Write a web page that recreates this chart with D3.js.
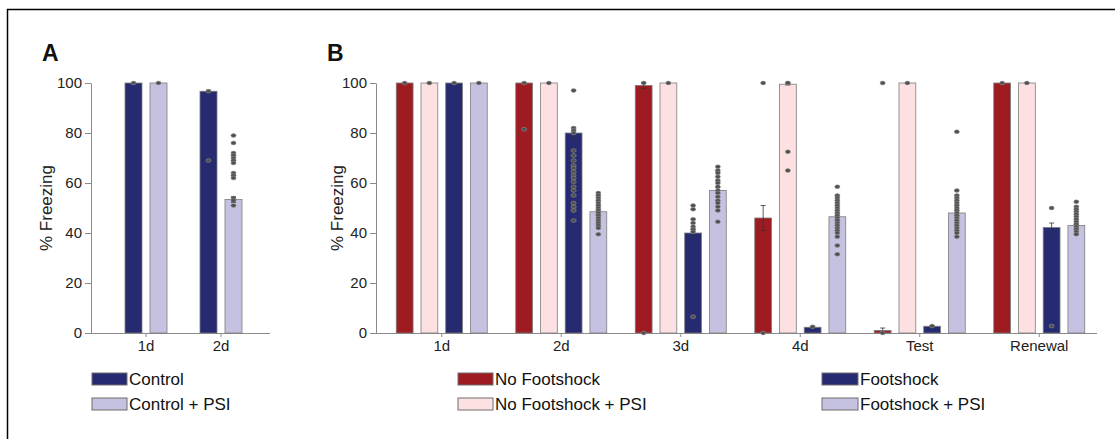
<!DOCTYPE html>
<html><head><meta charset="utf-8">
<script src="https://cdn.jsdelivr.net/npm/d3@7"></script>
<style>body{margin:0;background:#fff}svg{display:block;font-family:"Liberation Sans",Arial,sans-serif}</style>
</head><body>
<svg id="c" width="1115" height="439"></svg>
<script>
// ---------- DATA ----------
const catsA = ["1d", "2d"];
const seriesA = ["Control", "Control + PSI"];
const meanControl = [100, 96.7];
const errControl = [0, 0.5];
const meanControlPSI = [100, 53.4];
const errControlPSI = [0, 1.2];
const dotsControl = [[100], [96.7, 69]];
const dotsControlPSI = [[100], [79, 76, 72, 71, 70, 69, 68, 64, 63, 62, 54, 53, 51]];

const catsB = ["1d", "2d", "3d", "4d", "Test", "Renewal"];
const seriesB = ["No Footshock", "No Footshock + PSI", "Footshock", "Footshock + PSI"];
const meanNoFoot = [100, 100, 99, 46, 1, 100];
const errNoFoot = [0, 0, 1.2, 5, 1, 0];
const meanNoFootPSI = [100, 100, 100, 99.5, 100, 100];
const errNoFootPSI = [0, 0, 0, 0.3, 0, 0];
const meanFoot = [100, 80, 40, 2.3, 2.7, 42.2];
const errFoot = [0, 2, 1.3, 0.3, 0.3, 1.8];
const meanFootPSI = [100, 48.5, 57, 46.5, 48, 43];
const errFootPSI = [0, 1, 1.2, 1.3, 1.2, 0.8];
const dotsNoFoot = [[100], [100, 81.5], [100, 0], [100, 0], [100, 0], [100]];
const dotsNoFootPSI = [[100], [100], [100], [100, 100, 72.5, 65], [100], [100]];
const dotsFoot = [[100],
  [97, 82, 81, 80, 73, 71, 69, 67, 66, 64.5, 63, 62, 60.5, 58.5, 57, 55, 52, 50.5, 49, 45],
  [51, 49.5, 45.5, 44, 42.5, 41.5, 40.5, 6.5],
  [2.5], [2.8], [50, 2.8]];
const dotsFootPSI = [[100],
  [56, 55, 54, 53, 52, 51, 50, 49, 48, 47, 46, 45, 44, 43, 42, 39.5],
  [66.5, 65, 64, 62.5, 61, 60, 58.5, 57, 56, 54.5, 53, 52, 50.5, 49, 44.5],
  [58.5, 55, 54, 53, 52, 51, 50, 49, 48, 47, 46, 45, 44, 43, 42, 41, 40, 38.5, 35, 31.5],
  [80.5, 57, 55, 54, 53, 52, 51, 50, 49, 48, 47, 46, 45, 44, 43, 42, 41, 40, 38.5],
  [52.5, 50.5, 49.5, 48.5, 47.5, 46.5, 45.5, 44.5, 43.5, 42.5, 41.5, 40.5, 39.5]];
const yTicks = [0, 20, 40, 60, 80, 100];

// ---------- STYLE ----------
const RED = "#9e1b21", PINK = "#fde0e2", NAVY = "#262a70", LAV = "#c4c2e0";
const AXIS = "#8a8a8a";

const svg = d3.select("#c");
// frame (top and left lines)
svg.append("line").attr("x1", 7).attr("x2", 1115).attr("y1", 9.5).attr("y2", 9.5).attr("stroke", "#000").attr("stroke-width", 1.5);
svg.append("line").attr("x1", 7.5).attr("x2", 7.5).attr("y1", 9).attr("y2", 439).attr("stroke", "#000").attr("stroke-width", 1.5);

const y = d3.scaleLinear().domain([0, 100]).range([333, 83]);

function panel(opt) {
  const g = svg.append("g");
  const x = d3.scaleBand().domain(opt.cats).range(opt.range);
  const half = opt.groupW / 2;
  const xs = d3.scaleBand().domain(opt.series).range([-half, half]).paddingInner(0.32).paddingOuter(0);
  const bw = xs.bandwidth();

  // y axis
  const ya = g.append("g").attr("transform", `translate(${opt.x0},0)`)
    .call(d3.axisLeft(y).tickValues(yTicks).tickSize(6).tickPadding(3).tickSizeOuter(0));
  ya.select(".domain").attr("stroke", AXIS);
  ya.selectAll(".tick line").attr("stroke", AXIS);
  ya.selectAll(".tick text").attr("font-size", 15).attr("fill", "#222").attr("font-family", "Liberation Sans, Arial, sans-serif");

  // x axis
  const xa = g.append("g").attr("transform", `translate(0,${y(0)})`)
    .call(d3.axisBottom(x).tickSize(4).tickPadding(3).tickSizeOuter(0));
  xa.select(".domain").remove();
  xa.selectAll(".tick line").attr("stroke", AXIS);
  xa.selectAll(".tick text").attr("font-size", 15).attr("fill", "#222").attr("font-family", "Liberation Sans, Arial, sans-serif");
  g.append("line").attr("x1", opt.x0).attr("x2", opt.x1).attr("y1", y(0) + 0.5).attr("y2", y(0) + 0.5).attr("stroke", AXIS);

  // y title
  g.append("text").attr("transform", `translate(${opt.titleX},${(y(0) + y(100)) / 2}) rotate(-90)`)
    .attr("text-anchor", "middle").attr("dominant-baseline", "central")
    .attr("font-size", 17).attr("fill", "#222").text("% Freezing");
  // panel letter
  g.append("text").attr("x", opt.letterX).attr("y", 61).attr("font-size", 23).attr("font-weight", "bold")
    .attr("fill", "#111").text(opt.letter);

  opt.series.forEach((s, si) => {
    const means = opt.means[si], errs = opt.errs[si], dots = opt.dots[si];
    opt.cats.forEach((c, ci) => {
      const cx = x(c) + x.bandwidth() / 2 + xs(s);
      g.append("rect").attr("x", cx).attr("width", bw)
        .attr("y", y(means[ci])).attr("height", y(0) - y(means[ci]))
        .attr("fill", opt.colors[si]).attr("stroke", "#7d7d7d").attr("stroke-width", 0.8);
      const mx = cx + bw / 2;
      if (errs[ci] > 0) {
        const e = errs[ci];
        g.append("line").attr("x1", mx).attr("x2", mx).attr("y1", y(means[ci] + e)).attr("y2", y(means[ci] - e)).attr("stroke", "#333").attr("stroke-width", 0.8);
        [means[ci] + e, means[ci] - e].forEach(v => g.append("line").attr("x1", mx - 2.5).attr("x2", mx + 2.5).attr("y1", y(v)).attr("y2", y(v)).attr("stroke", "#333").attr("stroke-width", 0.8));
      }
      dots[ci].forEach(v => {
        g.append("ellipse").attr("cx", mx).attr("cy", y(v)).attr("rx", 2.6).attr("ry", 1.9)
          .attr("fill", "#505050").attr("stroke", "#9a9a9a").attr("stroke-width", 0.5);
      });
    });
  });

  // legend
  opt.legend.forEach((L, i) => {
    g.append("rect").attr("x", L.x).attr("y", L.y).attr("width", L.w).attr("height", 12)
      .attr("fill", opt.colors[L.si]).attr("stroke", "#6e6e6e").attr("stroke-width", 1);
    g.append("text").attr("x", L.x + L.w + 2).attr("y", L.y + 6).attr("dominant-baseline", "central")
      .attr("font-size", L.fs).attr("fill", "#111").text(opt.series[L.si]);
  });
}

panel({
  cats: catsA, series: seriesA, range: [108.5, 258.5], groupW: 42,
  x0: 91, x1: 270, titleX: 46, letter: "A", letterX: 42,
  means: [meanControl, meanControlPSI], errs: [errControl, errControlPSI], dots: [dotsControl, dotsControlPSI],
  colors: [NAVY, LAV],
  legend: [{si: 0, x: 92, y: 373, w: 35, fs: 17}, {si: 1, x: 92, y: 398, w: 35, fs: 17}]
});

panel({
  cats: catsB, series: seriesB, range: [382, 1099], groupW: 91,
  x0: 376, x1: 1097, titleX: 337, letter: "B", letterX: 327,
  means: [meanNoFoot, meanNoFootPSI, meanFoot, meanFootPSI], errs: [errNoFoot, errNoFootPSI, errFoot, errFootPSI],
  dots: [dotsNoFoot, dotsNoFootPSI, dotsFoot, dotsFootPSI],
  colors: [RED, PINK, NAVY, LAV],
  legend: [{si: 0, x: 458, y: 373, w: 35, fs: 17}, {si: 1, x: 458, y: 398, w: 35, fs: 17},
           {si: 2, x: 822, y: 373, w: 36, fs: 17}, {si: 3, x: 822, y: 398, w: 36, fs: 17}]
});
</script>
</body></html>
